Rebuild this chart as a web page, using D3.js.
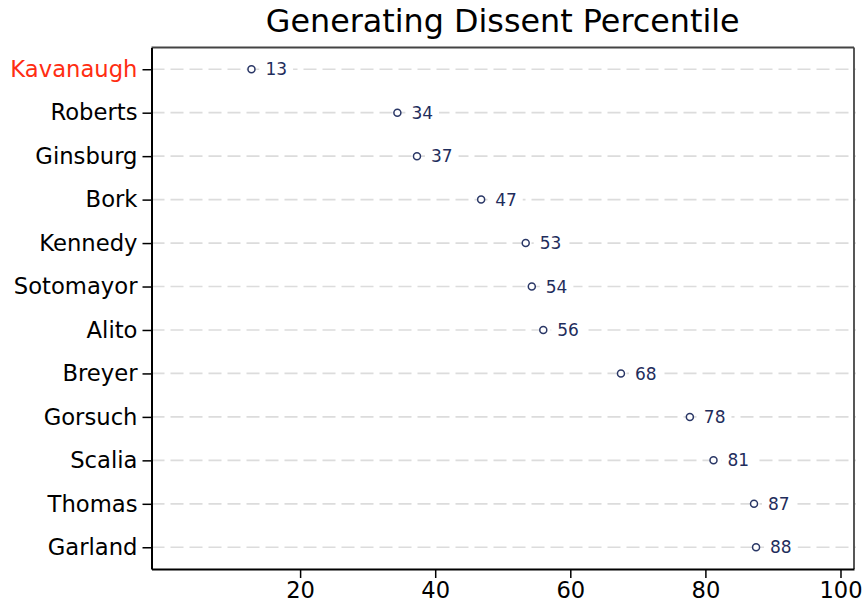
<!DOCTYPE html>
<html>
<head>
<meta charset="utf-8">
<script src="https://cdn.jsdelivr.net/npm/d3@7"></script>
<style>
  body { margin: 0; background: #fff; }
  text { font-family: "DejaVu Sans", sans-serif; }
</style>
</head>
<body>
<svg id="chart" width="865" height="605"></svg>
<script>
// justices, top to bottom
let justices = ["Kavanaugh", "Roberts", "Ginsburg", "Bork", "Kennedy", "Sotomayor",
                "Alito", "Breyer", "Gorsuch", "Scalia", "Thomas", "Garland"];
let percentiles = [12.8, 34.4, 37.3, 46.8, 53.4, 54.3, 56.0, 67.5, 77.7, 81.2, 87.2, 87.5];
let pctLabels = ["13", "34", "37", "47", "53", "54", "56", "68", "78", "81", "87", "88"];
let xTicks = [20, 40, 60, 80, 100];
let highlight = "Kavanaugh";

let data = justices.map(function(d, i) {
    return { name: d, value: percentiles[i], label: pctLabels[i] };
});

let svg = d3.select("#chart"),
    margin = { top: 47.5, right: 11, bottom: 36, left: 151.5 },
    width = svg.attr("width") - margin.left - margin.right,
    height = svg.attr("height") - margin.top - margin.bottom;

let x = d3.scaleLinear().domain([-2, 102]).range([0, width]);
let y = d3.scalePoint().domain(justices).range([0, height]).padding(0.5);

let g = svg.append("g")
    .attr("transform", "translate(" + margin.left + "," + margin.top + ")");

// title
svg.append("text")
    .attr("x", margin.left + width / 2)
    .attr("y", 32)
    .attr("text-anchor", "middle")
    .attr("font-size", "31.8px")
    .attr("fill", "#000")
    .text("Generating Dissent Percentile");

// dashed grid lines
g.selectAll(".grid")
    .data(justices)
    .enter().append("line")
    .attr("class", "grid")
    .attr("x1", 0)
    .attr("x2", width + 2)
    .attr("y1", function(d) { return y(d); })
    .attr("y2", function(d) { return y(d); })
    .attr("stroke", "#dcdcdc")
    .attr("stroke-width", 1.7)
    .attr("stroke-dasharray", "13,6");

// top and right frame
g.append("line")
    .attr("x1", 0).attr("x2", width)
    .attr("y1", 0).attr("y2", 0)
    .attr("stroke", "#444").attr("stroke-width", 1.8);
g.append("line")
    .attr("x1", width).attr("x2", width)
    .attr("y1", 0).attr("y2", height)
    .attr("stroke", "#444").attr("stroke-width", 1.8);

// x axis
let xAxis = g.append("g")
    .attr("transform", "translate(0," + height + ")")
    .call(d3.axisBottom(x).tickValues(xTicks).tickSize(9).tickPadding(4).tickSizeOuter(0));
xAxis.select(".domain").attr("stroke", "#000").attr("stroke-width", 2);
xAxis.selectAll(".tick line").attr("stroke", "#000").attr("stroke-width", 1.5);
xAxis.selectAll(".tick text")
    .attr("font-size", "22.6px")
    .attr("font-family", "DejaVu Sans, sans-serif")
    .attr("fill", "#000");

// y axis
let yAxis = g.append("g")
    .call(d3.axisLeft(y).tickSize(9).tickPadding(5).tickSizeOuter(0));
yAxis.select(".domain").attr("stroke", "#000").attr("stroke-width", 2);
yAxis.selectAll(".tick line").attr("stroke", "#000").attr("stroke-width", 1.5);
yAxis.selectAll(".tick text")
    .attr("font-size", "22.7px")
    .attr("font-family", "DejaVu Sans, sans-serif")
    .attr("fill", function(d) { return d === highlight ? "#ff2d12" : "#000"; });

// value labels with white box behind
let labels = g.selectAll(".val")
    .data(data)
    .enter().append("g")
    .attr("class", "val")
    .attr("transform", function(d) {
        return "translate(" + (x(d.value) + 14) + "," + y(d.name) + ")";
    });

labels.append("rect")
    .attr("x", -6)
    .attr("y", -10)
    .attr("width", function(d) { return d.label.length * 10.8 + 12; })
    .attr("height", 20)
    .attr("fill", "#fff");

labels.append("text")
    .attr("dy", "0.36em")
    .attr("font-size", "17px")
    .attr("fill", "#1f2d5c")
    .text(function(d) { return d.label; });

// points
g.selectAll(".dot")
    .data(data)
    .enter().append("circle")
    .attr("class", "dot")
    .attr("cx", function(d) { return x(d.value); })
    .attr("cy", function(d) { return y(d.name); })
    .attr("r", 3.5)
    .attr("fill", "#fff")
    .attr("stroke", "#2a3766")
    .attr("stroke-width", 1.5);
</script>
</body>
</html>
